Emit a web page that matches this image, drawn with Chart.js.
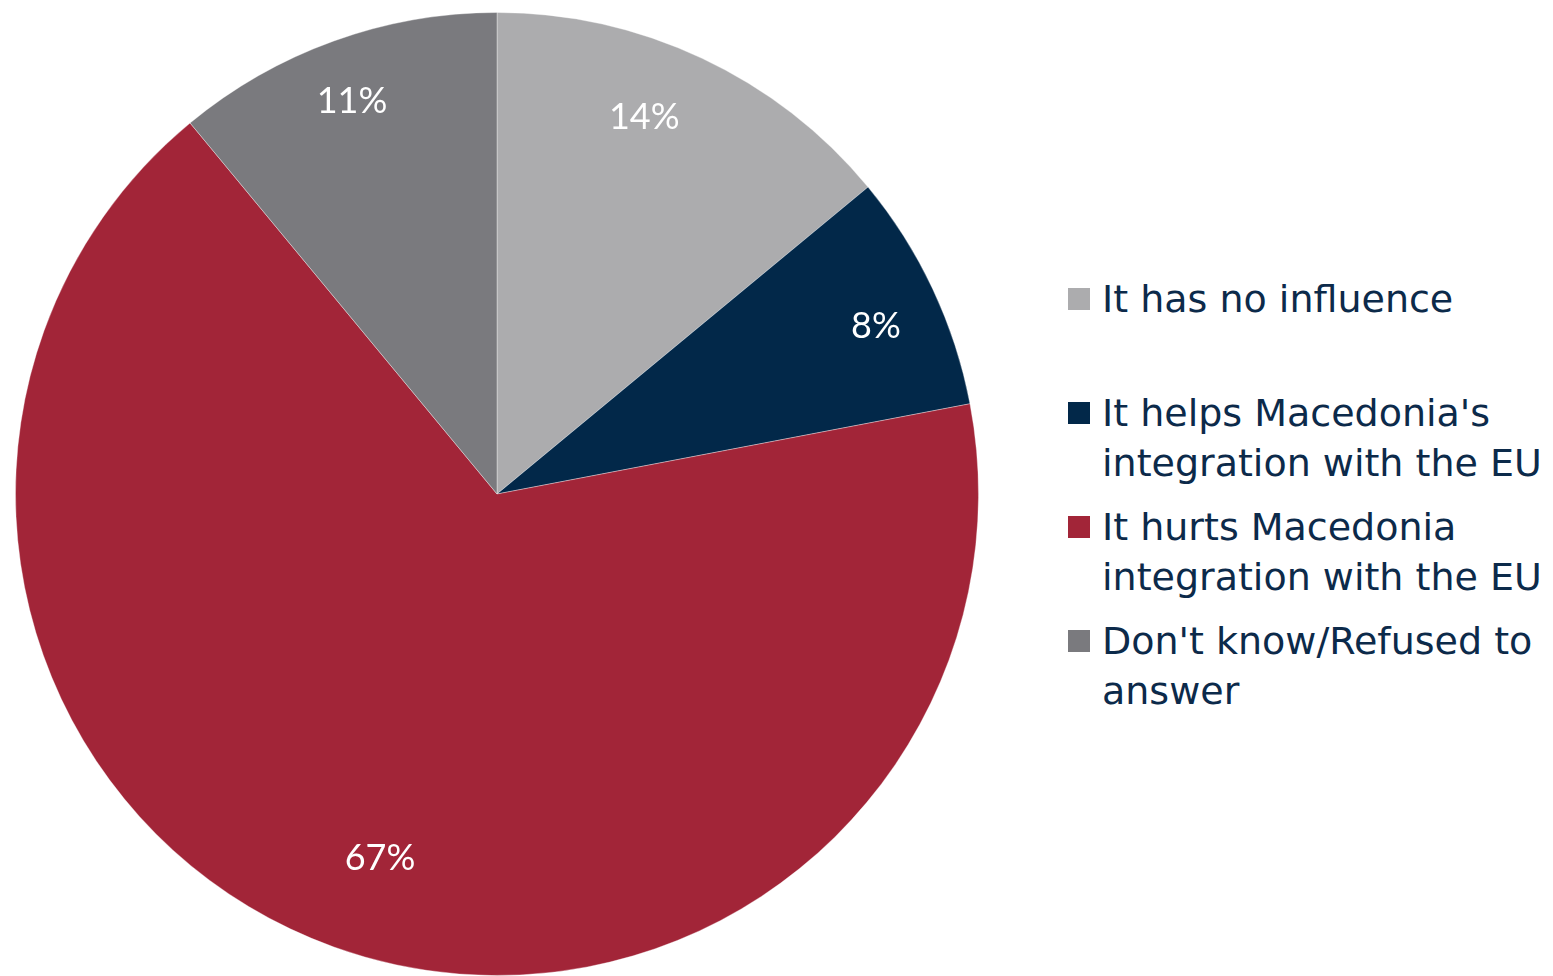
<!DOCTYPE html>
<html>
<head>
<meta charset="utf-8">
<script src="https://cdn.jsdelivr.net/npm/chart.js@4"></script>
<style>
  html, body { margin: 0; padding: 0; background: #ffffff; }
  body { width: 1553px; height: 976px; position: relative; overflow: hidden; }
  #pieBox { position: absolute; left: 15px; top: 12px; width: 964px; height: 964px; }
  #legend { position: absolute; left: 1068px; top: 0; }
  .item { position: absolute; left: 0; width: 490px; font-family: "DejaVu Sans", sans-serif;
          font-size: 38px; line-height: 50px; color: #0c2a4a; padding-left: 34px; white-space: nowrap; }
  .box { position: absolute; left: 0; top: 14px; width: 22px; height: 22px; }
</style>
</head>
<body>
<div id="pieBox"><canvas id="pie"></canvas></div>
<div id="legend"></div>
<script>
// answers in legend order, multi-line as shown in the legend
const labels = [
  ['It has no influence'],
  ["It helps Macedonia's", 'integration with the EU'],
  ['It hurts Macedonia', 'integration with the EU'],
  ["Don't know/Refused to", 'answer']
];
const shares = [14, 8, 67, 11];
const colors = ['#acacae', '#022849', '#a22538', '#7a7a7e'];

// small hand nudges (px) for the percent labels, like the original placement
const labelNudge = [[-25, -11], [13, 5], [20, -16], [-8, -12]];

// percent labels inside the slices
const sliceLabels = {
  id: 'sliceLabels',
  afterDatasetsDraw(chart) {
    const ctx = chart.ctx;
    const meta = chart.getDatasetMeta(0);
    ctx.save();
    ctx.font = '36px Lato, "Open Sans", sans-serif';
    ctx.fillStyle = '#ffffff';
    ctx.textAlign = 'center';
    ctx.textBaseline = 'middle';
    meta.data.forEach((arc, i) => {
      const p = arc.getProps(['x', 'y', 'startAngle', 'endAngle', 'outerRadius'], true);
      const mid = (p.startAngle + p.endAngle) / 2;
      const r = p.outerRadius * 0.84;
      ctx.fillText(shares[i] + '%',
        p.x + Math.cos(mid) * r + labelNudge[i][0],
        p.y + Math.sin(mid) * r + labelNudge[i][1]);
    });
    ctx.restore();
  }
};

new Chart(document.getElementById('pie'), {
  type: 'pie',
  data: {
    labels: labels.map(l => l.join(' ')),
    datasets: [{
      data: shares,
      backgroundColor: colors,
      borderColor: 'rgba(255,255,255,0.35)',
      borderWidth: 1
    }]
  },
  options: {
    responsive: true,
    maintainAspectRatio: false,
    animation: false,
    layout: { padding: 0 },
    plugins: {
      legend: { display: false },
      tooltip: { enabled: false }
    }
  },
  plugins: [sliceLabels]
});

// legend built from the same arrays
const legend = document.getElementById('legend');
labels.forEach((lines, i) => {
  const div = document.createElement('div');
  div.className = 'item';
  div.style.top = (274 + i * 114) + 'px';
  div.innerHTML = '<span class="box" style="background:' + colors[i] + '"></span>' + lines.join('<br>');
  legend.appendChild(div);
});
</script>
</body>
</html>
